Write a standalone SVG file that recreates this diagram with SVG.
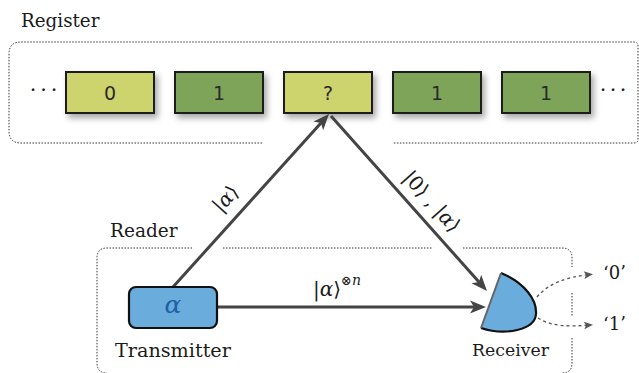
<svg xmlns="http://www.w3.org/2000/svg" width="639" height="373" viewBox="0 0 639 373">
  <style>
    .cell { stroke: #1e1e1e; stroke-width: 2; filter: url(#shadow); }
    .yel { fill: #cdd46e; }
    .grn { fill: #7ea45a; }
    .dotted { fill: none; stroke: #333; stroke-width: 1; stroke-dasharray: 1.5 1.5; }
    .conn { fill: none; stroke: #444; stroke-width: 3; }
    .dash { fill: none; stroke: #555; stroke-width: 1.3; stroke-dasharray: 3 3; }
    .blue { fill: #6aacdc; }
  </style>
  <defs>
    <filter id="shadow" x="-20%" y="-30%" width="150%" height="180%">
      <feDropShadow dx="3" dy="4" stdDeviation="3" flood-color="#000" flood-opacity="0.35"/>
    </filter>
    <marker id="arr" markerUnits="userSpaceOnUse" markerWidth="20" markerHeight="16" viewBox="-12 -8 20 16" refX="0" refY="0" orient="auto">
      <path d="M6,0 L-10,-6.5 L-6,0 L-10,6.5 Z" fill="#444"/>
    </marker>
    <marker id="arrs" markerUnits="userSpaceOnUse" markerWidth="12" markerHeight="10" viewBox="-7 -5 12 10" refX="0" refY="0" orient="auto">
      <path d="M3,0 L-6,-3.8 L-4,0 L-6,3.8 Z" fill="#555"/>
    </marker>
  </defs>

  <g id="register">
    <text font-family="DejaVu Serif" font-size="18.3" fill="#1a1a1a" x="21" y="27">Register</text>
    <path class="dotted" d="M262,143 L21,143 Q9,143 9,131 L9,54 Q9,42 21,42 L634,42 Q638,42 638,46 L638,139 Q638,143 634,143 L393,143"/>
    <text font-family="DejaVu Serif" font-size="21" fill="#1a1a1a" x="33 43.5 54" y="97" text-anchor="middle">···</text>
    <text font-family="DejaVu Serif" font-size="21" fill="#1a1a1a" x="603 613 623" y="97" text-anchor="middle">···</text>
  </g>

  <g id="cell1"><rect class="cell yel" x="66" y="72" width="88" height="41"/><text font-family="DejaVu Sans" font-size="19" fill="#2a2a2a" text-anchor="middle" x="110" y="100">0</text></g>
  <g id="cell2"><rect class="cell grn" x="175" y="72" width="88" height="41"/><text font-family="DejaVu Sans" font-size="19" fill="#2a2a2a" text-anchor="middle" x="219" y="100">1</text></g>
  <g id="cell3"><rect class="cell yel" x="284" y="72" width="88" height="41"/><text font-family="DejaVu Sans" font-size="19" fill="#2a2a2a" text-anchor="middle" x="328" y="100">?</text></g>
  <g id="cell4"><rect class="cell grn" x="393" y="72" width="88" height="41"/><text font-family="DejaVu Sans" font-size="19" fill="#2a2a2a" text-anchor="middle" x="437" y="100">1</text></g>
  <g id="cell5"><rect class="cell grn" x="502" y="72" width="88" height="41"/><text font-family="DejaVu Sans" font-size="19" fill="#2a2a2a" text-anchor="middle" x="546" y="100">1</text></g>

  <g id="reader">
    <text font-family="DejaVu Serif" font-size="18.5" fill="#1a1a1a" x="110" y="237">Reader</text>
    <path class="dotted" d="M192,248 L107,248 Q97,248 97,258 L97,363 Q97,373 107,373"/>
    <path class="dotted" d="M223,248 L432,248"/>
    <path class="dotted" d="M463,248 L562,248 Q572,248 572,258 L572,267"/>
    <path class="dotted" d="M572,293 L572,316"/>
    <path class="dotted" d="M572,338 L572,363 Q572,373 562,373"/>
  </g>

  <g id="connectors">
    <line class="conn" x1="173" y1="287" x2="325" y2="118.5" marker-end="url(#arr)"/>
    <line class="conn" x1="331" y1="116" x2="483" y2="286.5" marker-end="url(#arr)"/>
    <line class="conn" x1="217" y1="307" x2="480" y2="307" marker-end="url(#arr)"/>
    <path class="dash" d="M537,297 C548,284 565,277 590,274.5" marker-end="url(#arrs)"/>
    <path class="dash" d="M538,318 C550,326 568,327 590,325" marker-end="url(#arrs)"/>
    <text font-family="DejaVu Serif" font-size="20" fill="#1a1a1a" transform="translate(230.5,203) rotate(-48)" text-anchor="middle">|<tspan font-style="italic">α</tspan>⟩</text>
    <text font-family="DejaVu Serif" font-size="20" fill="#1a1a1a" transform="translate(427,206) rotate(48)" text-anchor="middle">|0⟩ , |<tspan font-style="italic">α</tspan>⟩</text>
    <text font-family="DejaVu Serif" font-size="20" fill="#1a1a1a" x="313" y="296">|<tspan font-style="italic">α</tspan>⟩<tspan font-size="13" dy="-11">⊗</tspan><tspan font-size="14" font-style="italic">n</tspan></text>
    <text font-family="DejaVu Serif" font-size="18" fill="#1a1a1a" x="603" y="279">‘0’</text>
    <text font-family="DejaVu Serif" font-size="18" fill="#1a1a1a" x="603" y="330">‘1’</text>
  </g>

  <g id="transmitter">
    <rect class="blue" x="129" y="287" width="88" height="41" rx="7" stroke="#111" stroke-width="2.2"/>
    <text x="173" y="313" text-anchor="middle" font-family="DejaVu Serif" font-style="italic" font-size="25" fill="#1f5fa6">α</text>
    <text font-family="DejaVu Serif" font-size="19.2" fill="#1a1a1a" x="115" y="357">Transmitter</text>
  </g>

  <g id="receiver">
    <path class="blue" d="M501,273 C525,283 537,300 536,314 C535,330 505,336 481,328 Z" stroke="none"/>
    <path d="M501,273 C525,283 537,300 536,314 C535,330 505,336 481,328" fill="none" stroke="#111" stroke-width="2.2"/>
    <line x1="481" y1="328" x2="501" y2="273" stroke="#666" stroke-width="2"/>
    <text font-family="DejaVu Serif" font-size="17.3" fill="#1a1a1a" x="472" y="356">Receiver</text>
  </g>
</svg>
